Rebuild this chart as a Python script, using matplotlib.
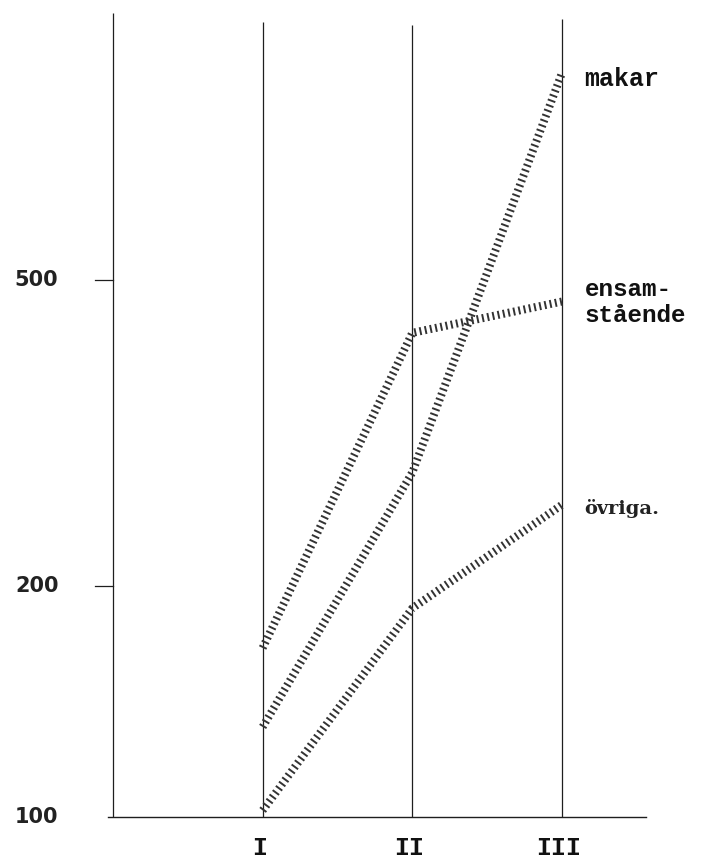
import matplotlib
matplotlib.use("Agg")
import matplotlib.pyplot as plt
import numpy as np

# Data (log scale)
periods = ["I", "II", "III"]
makar = [131, 281, 931]
ensamstaende = [166, 427, 469]
ovriga = [102, 187, 255]
ytick_values = [100, 200, 500]
ytick_labels = ["100", "200", "500"]
series_labels = ["makar", "ensam-\nstående", "övriga."]

fig = plt.figure(figsize=(7.14, 8.64), dpi=100)
fig.patch.set_facecolor("white")

# axes: x data 0 = left axis line, 1..3 = periods
x_left, x_right = -0.05, 3.6
ax = fig.add_axes([105.5 / 714, 47 / 864, 546.3 / 714, 804 / 864])
ax.set_yscale("log")
ax.set_xlim(x_left, x_right)
ax.set_ylim(100, 1114)
ax.axis("off")

ink = "#1e1e1e"
# vertical lines (left axis + period lines), slightly differing heights as in the reference
vtops = [1114, 1085, 1075, 1095]
for xi, top in zip([0, 1, 2, 3], vtops):
    ax.plot([xi, xi], [100, top], color=ink, lw=0.9, solid_capstyle="butt", clip_on=False)

# bottom axis line
ax.plot([-0.03, 3.56], [100, 100], color=ink, lw=1.0, clip_on=False)

# ticks at 200 and 500
for v in ytick_values[1:]:
    ax.plot([-0.12, 0], [v, v], color=ink, lw=0.9, clip_on=False)

# y labels
for v, lab in zip(ytick_values, ytick_labels):
    ax.text(-0.51, v, lab, ha="center", va="center", fontsize=15, fontweight="bold",
            color="#222222", family="DejaVu Sans", clip_on=False)

# x labels
xs = [1, 2, 3]
for xi, lab in zip(xs, periods):
    ax.text(xi - 0.02, -31 / 804, lab, transform=ax.get_xaxis_transform(), ha="center", va="center",
            fontsize=18, fontweight="bold", family="Liberation Mono", color="#111111")

# hatched series lines
for ys in [makar, ensamstaende, ovriga]:
    ax.plot(xs, ys, color="#333333", lw=5.8, dashes=(0.24, 0.42),
            dash_capstyle="butt", solid_joinstyle="miter", clip_on=False)

# series labels
ax.text(3.15, 915, series_labels[0], ha="left", va="center", fontsize=18,
        fontweight="bold", family="Liberation Mono", color="#111111")
ax.text(3.15, 468, series_labels[1], ha="left", va="center", fontsize=17.5,
        fontweight="bold", family="Liberation Mono", color="#111111", linespacing=1.15)
ax.text(3.15, 252, series_labels[2], ha="left", va="center", fontsize=14,
        fontweight="bold", family="DejaVu Serif", color="#222222")

fig.savefig("out.png", dpi=100, facecolor="white")
